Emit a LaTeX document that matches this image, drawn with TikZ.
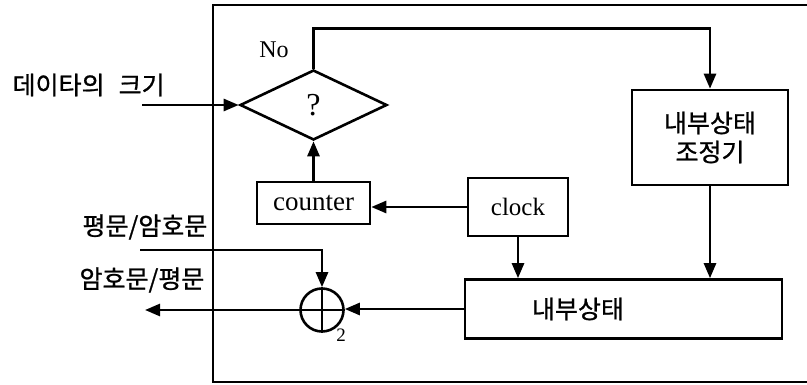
\documentclass[tikz,border=0pt]{standalone}
\usepackage{fontspec}
\setmainfont{Liberation Serif}
\newfontfamily\kr[FakeBold=0.9]{Noto Sans CJK KR}
\usetikzlibrary{arrows.meta,shapes.geometric}
\begin{document}
\begin{tikzpicture}[x=1pt,y=-1pt,line width=2.6pt,
  arr/.style={-{Triangle[length=15pt,width=12pt]}},
  blk/.style={draw,rectangle,inner sep=0pt},
  en/.style={font=\fontsize{24}{26}\selectfont},
  ko/.style={font=\kr\fontsize{25}{29}\selectfont}]
\useasboundingbox (0,0) rectangle (807,385);
% outer frame
\draw[line width=2.2pt] (807,5) -- (213,5) -- (213,382) -- (807,382);
% nodes
\node[draw,diamond,inner sep=0pt,minimum width=147pt,minimum height=70pt,font=\fontsize{32}{34}\selectfont] (d) at (313.5,105) {?};
\node[blk,minimum width=113pt,minimum height=42pt,font=\fontsize{27}{29}\selectfont] (cnt) at (313.5,203) {counter};
\node[blk,minimum width=100pt,minimum height=58pt,font=\fontsize{25}{27}\selectfont] (clk) at (518,207) {clock};
\node[blk,minimum width=156pt,minimum height=95pt,ko,align=center] (adj) at (710,137.5) {내부상태\\조정기};
\node[blk,minimum width=317pt,minimum height=59pt] (st) at (623.5,309) {};
\node[ko] (sttxt) at (578,309) {내부상태};
\node[draw,circle,minimum size=43pt,inner sep=0pt] (x) at (322,310) {};
\draw (x.north) -- (x.south) (x.west) -- (x.east);
\node[font=\fontsize{19}{21}\selectfont] (two) at (341,335) {2};
% labels
\node[ko,anchor=west] (l1) at (8,85) {데이타의\hspace{14pt}크기};
\node[ko,anchor=east] (l2) at (212,227) {평문/암호문};
\node[ko,anchor=east] (l3) at (209,280) {암호문/평문};
\node[en] (no) at (274,50) {No};
% coordinates
\coordinate (inD) at (142,105);
\coordinate (inP) at (140,250);
\coordinate (outC) at (145,310);
% connectors
\draw[arr] (inD) -- (d.west);
\draw[arr] (d.north) -- ++(0,-40) -| (adj.north);
\draw[arr] (cnt.north) -- (d.south);
\draw[arr] (clk.west) -- (clk.west -| cnt.east);
\draw[arr] (clk.south) -- (clk.south |- st.north);
\draw[arr] (adj.south) -- (adj.south |- st.north);
\draw[arr] (st.west) -- (st.west -| x.east);
\draw[arr] (x.west) -- (outC);
\draw[arr] (inP) -| (x.north);
\end{tikzpicture}
\end{document}
